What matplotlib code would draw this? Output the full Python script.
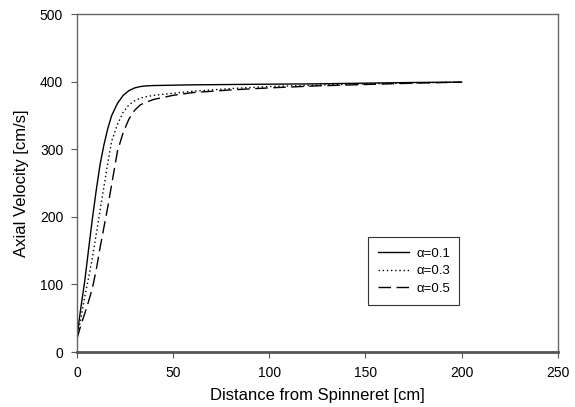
import numpy as np
import matplotlib.pyplot as plt

plt.rcParams['font.family'] = ['Liberation Sans', 'DejaVu Sans']

# distance from spinneret [cm]
x = [0, 1, 2, 4, 6, 8, 10, 12, 14, 16, 18, 21, 24, 27, 30, 33, 36, 40,
     50, 60, 80, 100, 125, 150, 175, 200]

# axial velocity [cm/s] for each alpha
v_01 = [22, 45, 66, 105, 152, 198, 240, 278, 307, 331, 350, 368, 380, 387,
        391, 393, 394, 394.5, 395, 395.5, 396, 396.5, 397, 398, 399, 399.5]
v_03 = [22, 35, 50, 82, 110, 140, 175, 210, 245, 280, 312, 337, 355, 366,
        372, 376, 378, 380, 383, 386, 390, 393, 395, 397, 398.5, 399.5]
v_05 = [20, 30, 40, 57, 75, 95, 122, 155, 185, 215, 248, 297, 325, 345,
        358, 366, 370, 374, 380, 384, 388, 391, 394, 396, 398, 399.5]

fig = plt.figure(figsize=(5.75, 4.07), dpi=100)
ax = fig.add_axes([0.134, 0.135, 0.836, 0.830])

ax.plot(x, v_01, color='black', lw=1.0, ls='-', label='α=0.1')
ax.plot(x, v_03, color='black', lw=1.0, ls=(0, (1, 2)), label='α=0.3')
ax.plot(x, v_05, color='black', lw=1.0, ls=(0, (9, 4)), label='α=0.5')

ax.set_xlim(0, 250)
ax.set_ylim(0, 500)
ax.set_xticks(np.arange(0, 251, 50))
ax.set_yticks(np.arange(0, 501, 100))

for s in ['top', 'right', 'left']:
    ax.spines[s].set_color('#666666')
    ax.spines[s].set_linewidth(1.0)
ax.spines['bottom'].set_color('#555555')
ax.spines['bottom'].set_linewidth(2.0)
ax.tick_params(direction='out', length=4, width=0.8, colors='#555555',
               labelcolor='black', labelsize=10, pad=6)

ax.set_xlabel('Distance from Spinneret [cm]', fontsize=12, labelpad=6)
ax.set_ylabel('Axial Velocity [cm/s]', fontsize=12, labelpad=8)

leg = ax.legend(loc='upper left', bbox_to_anchor=(0.605, 0.131, 0.189, 0.21),
                mode='expand', fontsize=9.5, fancybox=False, framealpha=1,
                edgecolor='#333333', handlelength=2.3, handletextpad=0.6,
                borderpad=0.8, labelspacing=0.4, borderaxespad=0)
leg.get_frame().set_linewidth(0.8)

fig.savefig('out.png', dpi=100)
